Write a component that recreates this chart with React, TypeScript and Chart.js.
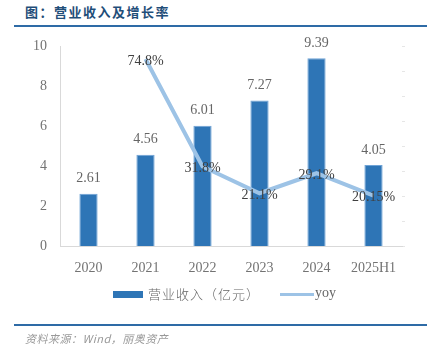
import React, { useEffect, useRef } from "react";
import { Chart, registerables } from "chart.js";

Chart.register(...registerables);

const categories = ["2020", "2021", "2022", "2023", "2024", "2025H1"];
const revenue = [2.61, 4.56, 6.01, 7.27, 9.39, 4.05];
const revenueLabels = ["2.61", "4.56", "6.01", "7.27", "9.39", "4.05"];
const yoy: (number | null)[] = [null, 74.8, 31.8, 21.1, 29.1, 20.15];
const yoyLabels = ["", "74.8%", "31.8%", "21.1%", "29.1%", "20.15%"];
const leftTicks = [0, 2, 4, 6, 8, 10];

const serif = "'Liberation Serif', 'DejaVu Serif', serif";
const cjk = "'Noto Sans CJK SC', sans-serif";

const labelPlugin = {
  id: "valueLabels",
  afterDatasetsDraw(chart: any) {
    const ctx = chart.ctx;
    ctx.save();
    ctx.font = `14px ${serif}`;
    ctx.textAlign = "center";
    const barMeta = chart.getDatasetMeta(0);
    ctx.fillStyle = "#666666";
    ctx.textBaseline = "middle";
    barMeta.data.forEach((el: any, i: number) => {
      ctx.fillText(revenueLabels[i], el.x, el.y - 15);
    });
    const lineMeta = chart.getDatasetMeta(1);
    ctx.fillStyle = "#404040";
    lineMeta.data.forEach((el: any, i: number) => {
      if (yoy[i] == null) return;
      ctx.fillText(yoyLabels[i], el.x, el.y + 2);
    });
    ctx.restore();
  },
};

export default function App() {
  const ref = useRef<HTMLCanvasElement>(null);
  useEffect(() => {
    if (!ref.current) return;
    const chart = new Chart(ref.current, {
      type: "bar",
      data: {
        labels: categories,
        datasets: [
          {
            type: "bar",
            label: "营业收入（亿元）",
            data: revenue,
            backgroundColor: "#2E75B6",
            borderColor: "#6FA3D6",
            borderWidth: 1,
            barPercentage: 0.64,
            categoryPercentage: 0.5,
            yAxisID: "y",
            order: 2,
          },
          {
            type: "line",
            label: "yoy",
            data: yoy,
            borderColor: "#9DC3E6",
            borderWidth: 4,
            pointRadius: 0,
            tension: 0,
            yAxisID: "y1",
            order: 1,
          },
        ],
      },
      options: {
        responsive: false,
        animation: false,
        events: [],
        layout: { padding: { left: 30, right: 26, top: 46, bottom: 79 } },
        plugins: { legend: { display: false }, tooltip: { enabled: false } },
        scales: {
          x: {
            grid: { display: false },
            border: { display: true, color: "#D9D9D9", width: 1 },
            ticks: { color: "#737373", font: { family: serif, size: 14 }, padding: 6 },
            afterFit: (s: any) => { s.height = 30; },
          },
          y: {
            position: "left",
            min: 0,
            max: 10,
            afterBuildTicks: (s: any) => { s.ticks = leftTicks.map((v) => ({ value: v })); },
            grid: { display: false },
            border: { display: true, color: "#D9D9D9", width: 1 },
            ticks: { color: "#737373", font: { family: serif, size: 14 }, padding: 5 },
            afterFit: (s: any) => { s.width = 30; },
          },
          y1: {
            position: "right",
            min: 0,
            max: 80,
            grid: { drawOnChartArea: false, drawTicks: true, tickLength: 3, color: "#E6E6E6" },
            border: { display: false },
            ticks: { display: false, stepSize: 10 },
            afterFit: (s: any) => { s.width = 5; },
          },
        },
      },
      plugins: [labelPlugin],
    });
    return () => chart.destroy();
  }, []);

  return (
    <div style={{ position: "absolute", left: 0, top: 0, width: 433, height: 355, background: "#fff", overflow: "hidden" }}>
      <div style={{ position: "absolute", left: 25, top: 3, fontFamily: cjk, fontWeight: 700, fontSize: 13, color: "#1F4E79", lineHeight: "18px", letterSpacing: 1.5 }}>
        图：营业收入及增长率
      </div>
      <div style={{ position: "absolute", left: 14, top: 25, width: 413, height: 2, background: "#2E6BA6" }} />
      <canvas ref={ref} width={433} height={355} style={{ position: "absolute", left: 0, top: 0 }} />
      <div style={{ position: "absolute", left: 113, top: 291, width: 30, height: 7, background: "#2E75B6" }} />
      <div style={{ position: "absolute", left: 148, top: 285, fontFamily: cjk, fontSize: 13, color: "#666666", lineHeight: "18px", letterSpacing: 1, fontWeight: 300 }}>
        营业收入（亿元）
      </div>
      <div style={{ position: "absolute", left: 280, top: 293, width: 34, height: 3, background: "#9DC3E6" }} />
      <div style={{ position: "absolute", left: 315, top: 284, fontFamily: serif, fontSize: 14, color: "#666666", lineHeight: "18px" }}>
        yoy
      </div>
      <div style={{ position: "absolute", left: 14, top: 324, width: 413, height: 2, background: "#2E6BA6" }} />
      <div style={{ position: "absolute", left: 25, top: 330, fontFamily: cjk, fontStyle: "italic", fontSize: 11, color: "#999999", lineHeight: "16px", letterSpacing: 0.5 }}>
        资料来源：Wind，丽奥资产
      </div>
    </div>
  );
}
